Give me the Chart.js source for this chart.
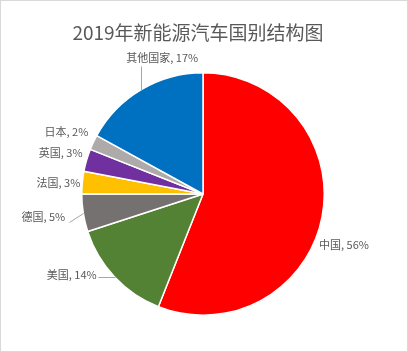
<!DOCTYPE html>
<html>
<head>
<meta charset="utf-8">
<script src="https://cdn.jsdelivr.net/npm/chart.js@4/dist/chart.umd.min.js"></script>
<style>
html,body{margin:0;padding:0;background:#fff;}
#wrap{position:relative;width:408px;height:352px;}
canvas{display:block;}
</style>
</head>
<body>
<div id="wrap"><canvas id="c" width="408" height="352"></canvas></div>
<script>
// ---- data ----
const title = "2019年新能源汽车国别结构图";
const categories = ["中国", "美国", "德国", "法国", "英国", "日本", "其他国家"];
const shares = [56, 14, 5, 3, 3, 2, 17];
const colors = ["#FF0000", "#548235", "#767171", "#FFC000", "#7030A0", "#AEAAAA", "#0070C0"];

// ---- label layout (offsets relative to slice edge midpoint) ----
// [dx, dy, align, leaderDx, leaderDy]
const labelLayout = [
  { dx: -3, dy: 28, align: "left", leader: null },
  { dx: -18, dy: -2, align: "right", leader: [-17, 0] },
  { dx: -18, dy: 4, align: "right", leader: [-14, 9] },
  { dx: -2, dy: 0, align: "right", leader: null },
  { dx: -4, dy: -7, align: "right", leader: null },
  { dx: -5, dy: -11, align: "right", leader: null },
  { dx: 21, dy: -32, align: "center", leader: [0, -24] }
];

const FONT = '"Noto Sans CJK SC", "Noto Sans", sans-serif';

const decor = {
  id: "decor",
  beforeDraw(chart) {
    const ctx = chart.ctx;
    ctx.save();
    ctx.fillStyle = "#fff";
    ctx.fillRect(0, 0, chart.width, chart.height);
    ctx.restore();
  },
  afterDatasetsDraw(chart) {
    const ctx = chart.ctx;
    const meta = chart.getDatasetMeta(0);
    ctx.save();
    ctx.font = "11px " + FONT;
    ctx.textBaseline = "middle";
    meta.data.forEach((arc, i) => {
      const p = arc.getProps(["x", "y", "startAngle", "endAngle", "outerRadius"], true);
      const mid = (p.startAngle + p.endAngle) / 2;
      const ax = p.x + Math.cos(mid) * p.outerRadius;
      const ay = p.y + Math.sin(mid) * p.outerRadius;
      const L = labelLayout[i];
      if (L.leader) {
        ctx.strokeStyle = "#A6A6A6";
        ctx.lineWidth = 1;
        ctx.beginPath();
        ctx.moveTo(Math.round(ax) + 0.5, Math.round(ay) + 0.5);
        ctx.lineTo(Math.round(ax + L.leader[0]) + 0.5, Math.round(ay + L.leader[1]) + 0.5);
        ctx.stroke();
      }
      ctx.fillStyle = "#595959";
      ctx.textAlign = L.align;
      ctx.fillText(categories[i] + ", " + shares[i] + "%", ax + L.dx, ay + L.dy);
    });
    ctx.restore();
  },
  afterDraw(chart) {
    const ctx = chart.ctx;
    ctx.save();
    ctx.font = "19px " + FONT;
    ctx.fillStyle = "#595959";
    ctx.textAlign = "center";
    ctx.textBaseline = "middle";
    ctx.fillText(title, 198, 33);
    ctx.strokeStyle = "#D9D9D9";
    ctx.lineWidth = 1;
    ctx.strokeRect(0.5, 0.5, chart.width - 1, chart.height - 1);
    ctx.restore();
  }
};

new Chart(document.getElementById("c"), {
  type: "pie",
  data: {
    labels: categories,
    datasets: [{
      data: shares,
      backgroundColor: colors,
      borderColor: "#FFFFFF",
      borderWidth: 1.5
    }]
  },
  options: {
    responsive: false,
    animation: false,
    devicePixelRatio: 1,
    layout: { padding: { left: 81, right: 83, top: 72, bottom: 36 } },
    plugins: {
      legend: { display: false },
      title: { display: false },
      tooltip: { enabled: false }
    }
  },
  plugins: [decor]
});
</script>
</body>
</html>
